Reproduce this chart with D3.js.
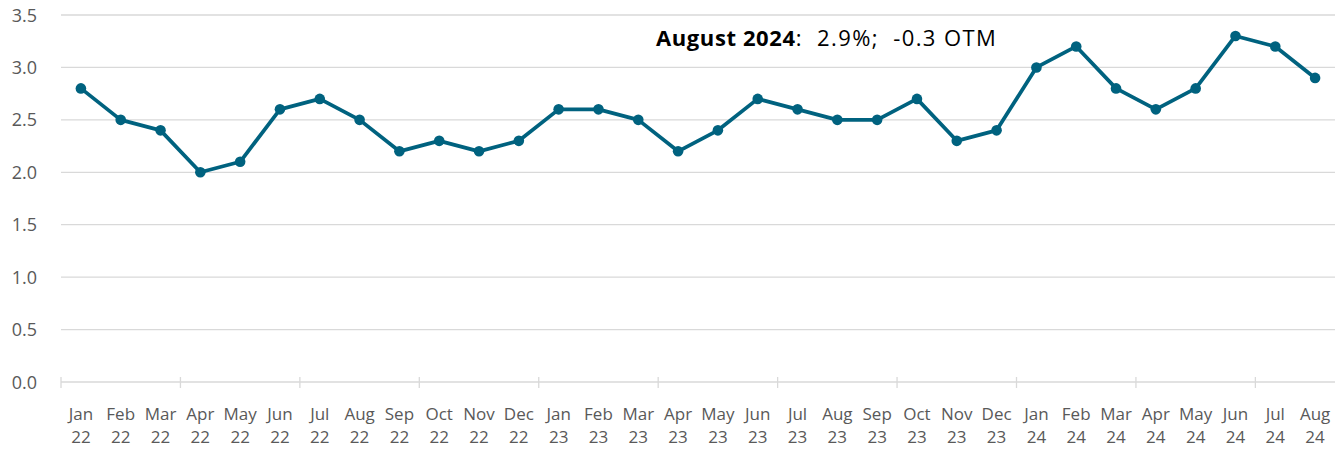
<!DOCTYPE html>
<html>
<head>
<meta charset="utf-8">
<script src="https://cdn.jsdelivr.net/npm/d3@7"></script>
<style>
  body { margin: 0; background: #fff; }
  svg { display: block; font-family: "Open Sans", "Liberation Sans", sans-serif; }
</style>
</head>
<body>
<div id="root"></div>
<script>
// data
var months = ['Jan', 'Feb', 'Mar', 'Apr', 'May', 'Jun', 'Jul', 'Aug', 'Sep', 'Oct', 'Nov', 'Dec'];
var years = ['22', '23', '24'];
var values = [2.8, 2.5, 2.4, 2.0, 2.1, 2.6, 2.7, 2.5, 2.2, 2.3, 2.2, 2.3,
              2.6, 2.6, 2.5, 2.2, 2.4, 2.7, 2.6, 2.5, 2.5, 2.7, 2.3, 2.4,
              3.0, 3.2, 2.8, 2.6, 2.8, 3.3, 3.2, 2.9];
var yTicks = [0, 0.5, 1.0, 1.5, 2.0, 2.5, 3.0, 3.5];

var categories = values.map(function(v, i) {
  return { m: months[i % 12], y: years[Math.floor(i / 12)], v: v, i: i };
});

var width = 1344;
var height = 449;
var plotLeft = 61, plotRight = 1335, plotTop = 15, plotBottom = 382;

var svg = d3.select('#root')
  .append('svg')
    .attr('width', width)
    .attr('height', height);

var x = d3.scaleBand()
  .domain(d3.range(categories.length))
  .range([plotLeft, plotRight]);

var y = d3.scaleLinear()
  .domain([0, 3.5])
  .range([plotBottom, plotTop]);

// gridlines
svg.selectAll('line.grid')
  .data(yTicks)
  .enter()
  .append('line')
    .attr('x1', plotLeft)
    .attr('x2', plotRight)
    .attr('y1', function(d) { return y(d); })
    .attr('y2', function(d) { return y(d); })
    .style('stroke', '#d9d9d9')
    .style('stroke-width', 1.3);

// y labels
svg.selectAll('text.ylab')
  .data(yTicks)
  .enter()
  .append('text')
    .attr('x', 37)
    .attr('y', function(d) { return y(d) + 6.5; })
    .attr('text-anchor', 'end')
    .style('font-size', '18px')
    .style('fill', '#595959')
    .text(function(d) { return d.toFixed(1); });

// tick marks every third month
var tickIdx = d3.range(0, categories.length + 1, 3);
svg.selectAll('line.tick')
  .data(tickIdx)
  .enter()
  .append('line')
    .attr('x1', function(d) { return plotLeft + d * x.step(); })
    .attr('x2', function(d) { return plotLeft + d * x.step(); })
    .attr('y1', plotBottom - 5)
    .attr('y2', plotBottom + 6)
    .style('stroke', '#d9d9d9')
    .style('stroke-width', 1.3);

// x labels
var xl = svg.selectAll('text.xlab')
  .data(categories)
  .enter()
  .append('text')
    .attr('text-anchor', 'middle')
    .attr('x', function(d) { return x(d.i) + x.bandwidth() / 2; })
    .style('font-size', '17px')
    .style('fill', '#595959');
xl.append('tspan')
  .attr('x', function(d) { return x(d.i) + x.bandwidth() / 2; })
  .attr('y', 420)
  .text(function(d) { return d.m; });
xl.append('tspan')
  .attr('x', function(d) { return x(d.i) + x.bandwidth() / 2; })
  .attr('y', 443)
  .text(function(d) { return d.y; });

// line + markers
var line = d3.line()
  .x(function(d) { return x(d.i) + x.bandwidth() / 2; })
  .y(function(d) { return y(d.v); });

svg.append('path')
  .datum(categories)
  .attr('d', line)
  .style('fill', 'none')
  .style('stroke', '#00627f')
  .style('stroke-width', 3.75)
  .style('stroke-linejoin', 'round');

svg.selectAll('circle')
  .data(categories)
  .enter()
  .append('circle')
    .attr('cx', function(d) { return x(d.i) + x.bandwidth() / 2; })
    .attr('cy', function(d) { return y(d.v); })
    .attr('r', 5.3)
    .style('fill', '#00627f');

// annotation
var note = svg.append('text')
  .attr('x', 656)
  .attr('y', 46)
  .style('font-size', '22px')
  .style('white-space', 'pre')
  .style('fill', '#000');
note.append('tspan').style('font-weight', 'bold').style('letter-spacing', '0.6px').text('August 2024');
note.append('tspan').style('letter-spacing', '1.4px').text(':  2.9%;  -0.3 OTM');
</script>
</body>
</html>
